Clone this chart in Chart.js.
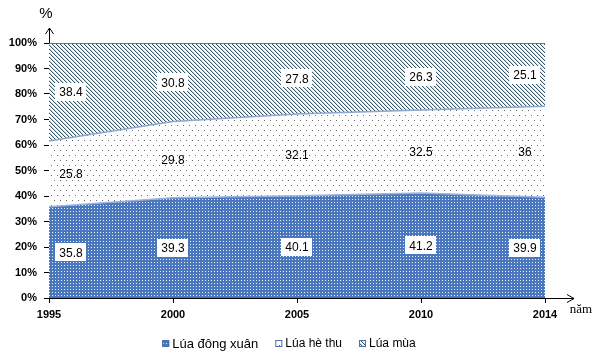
<!DOCTYPE html>
<html><head><meta charset="utf-8">
<script src="https://cdn.jsdelivr.net/npm/chart.js@4/dist/chart.umd.min.js"></script>
<style>html,body{margin:0;padding:0;background:#fff}</style>
</head><body>
<canvas id="c" width="609" height="362"></canvas>
<script>
const years = ['1995', '2000', '2005', '2010', '2014'];
const dongXuan = [35.8, 39.3, 40.1, 41.2, 39.9];
const heThu = [25.8, 29.8, 32.1, 32.5, 36];
const luaMua = [38.4, 30.8, 27.8, 26.3, 25.1];
const seriesNames = ['Lúa đông xuân', 'Lúa hè thu', 'Lúa mùa'];
const yAxisTitle = '%';
const xAxisTitle = 'năm';

const rawSeries = [dongXuan, heThu, luaMua];
const totals = years.map((_, j) => rawSeries.reduce((s, a) => s + a[j], 0));
const pct = a => a.map((v, j) => v / totals[j] * 100);

function makePattern(w, h, draw) {
  const c = document.createElement('canvas'); c.width = w; c.height = h;
  const g = c.getContext('2d'); draw(g);
  return document.createElement('canvas').getContext('2d').createPattern(c, 'repeat');
}
const patBlue = makePattern(3, 3, g => {
  g.fillStyle = '#4b77bf'; g.fillRect(0, 0, 3, 3);
  g.fillStyle = '#e8eef8'; g.fillRect(1, 1, 1, 1);
});
const patDots = makePattern(6, 10, g => {
  g.fillStyle = '#ffffff'; g.fillRect(0, 0, 6, 10);
  g.fillStyle = '#6a6a6a'; g.fillRect(0, 0, 1, 1); g.fillRect(3, 5, 1, 1);
});
const patHatch = makePattern(4, 4, g => {
  g.fillStyle = '#ffffff'; g.fillRect(0, 0, 4, 4);
  for (let i = 0; i < 4; i++) {
    g.fillStyle = '#365868'; g.fillRect(i, i, 1, 1);
    g.fillStyle = '#d0dae0'; g.fillRect((i + 1) % 4, i, 1, 1);
  }
});
const fills = [patBlue, patDots, patHatch];

const FONT = '"Liberation Sans", Arial, sans-serif';

const extrasPlugin = {
  id: 'extras',
  afterDatasetsDraw(chart) {
    const ctx = chart.ctx, xs = chart.scales.x, ys = chart.scales.y, ca = chart.chartArea;
    ctx.save();
    ctx.font = '12px ' + FONT;
    ctx.textAlign = 'center'; ctx.textBaseline = 'middle';
    const cum = years.map(() => 0);
    rawSeries.forEach((arr, d) => {
      const p = pct(arr);
      arr.forEach((v, j) => {
        const lo = cum[j], hi = cum[j] + p[j];
        cum[j] = hi;
        const y = (ys.getPixelForValue(lo) + ys.getPixelForValue(hi)) / 2;
        let x = xs.getPixelForValue(j);
        x = Math.max(ca.left + 22, Math.min(ca.right - 20, x));
        const t = String(v);
        const w = ctx.measureText(t).width + 8;
        if (d !== 1) {
          ctx.fillStyle = '#fff';
          ctx.fillRect(Math.round(x - w / 2), Math.round(y - 9), Math.round(w), 18);
        }
        ctx.fillStyle = '#000';
        ctx.fillText(t, x, y + 1);
      });
    });
    ctx.restore();
  },
  afterDraw(chart) {
    const ctx = chart.ctx, ca = chart.chartArea;
    ctx.save();
    ctx.strokeStyle = '#000'; ctx.lineWidth = 1;
    const ax = Math.round(ca.left) + 0.5;
    ctx.beginPath(); ctx.moveTo(ax, ca.top); ctx.lineTo(ax, ca.top - 15); ctx.stroke();
    ctx.beginPath(); ctx.moveTo(ax - 4, ca.top - 9); ctx.lineTo(ax, ca.top - 15); ctx.lineTo(ax + 4, ca.top - 9); ctx.stroke();
    const ay = Math.round(ca.bottom) + 0.5;
    ctx.beginPath(); ctx.moveTo(ca.right, ay); ctx.lineTo(ca.right + 29, ay); ctx.stroke();
    ctx.beginPath(); ctx.moveTo(ca.right + 22, ay - 4); ctx.lineTo(ca.right + 29, ay); ctx.lineTo(ca.right + 22, ay + 4); ctx.stroke();
    ctx.fillStyle = '#000';
    ctx.textAlign = 'center'; ctx.textBaseline = 'middle';
    ctx.font = '15px ' + FONT;
    ctx.fillText(yAxisTitle, ca.left - 3, 14);
    ctx.font = '13px "Liberation Serif", "Times New Roman", serif';
    ctx.fillText(xAxisTitle, ca.right + 36, ay + 11);
    const items = seriesNames.map((n, i) => ({ n, f: fills[i], font: (i === 0 ? '13px ' : '12px ') + FONT }));
    const gapBox = 3, gapItem = 17, box = 7;
    let total = 0;
    items.forEach((it, i) => { ctx.font = it.font; it.w = ctx.measureText(it.n).width; total += box + gapBox + it.w + (i ? gapItem : 0); });
    let x = 289 - total / 2;
    const ly = 344;
    ctx.textAlign = 'left';
    items.forEach((it, i) => {
      if (i) x += gapItem;
      ctx.fillStyle = it.f; ctx.fillRect(x, ly - 4, box, box);
      ctx.strokeStyle = '#4a6fad'; ctx.lineWidth = 1; ctx.strokeRect(x + 0.5, ly - 3.5, box - 1, box - 1);
      x += box + gapBox;
      ctx.fillStyle = '#000'; ctx.font = it.font; ctx.fillText(it.n, x, ly);
      x += it.w;
    });
    ctx.restore();
  }
};

new Chart(document.getElementById('c'), {
  type: 'line',
  data: {
    labels: years,
    datasets: [
      { label: seriesNames[0], data: pct(dongXuan), backgroundColor: patBlue, borderColor: '#9db4da', borderWidth: 1.5, fill: 'origin' },
      { label: seriesNames[1], data: pct(heThu), backgroundColor: patDots, borderColor: '#8ea7d0', borderWidth: 1.5, fill: '-1' },
      { label: seriesNames[2], data: pct(luaMua), backgroundColor: patHatch, borderColor: '#5673a2', borderWidth: 2, fill: '-1' }
    ]
  },
  options: {
    responsive: false, animation: false,
    layout: { padding: { top: 43, right: 64, bottom: 0, left: 0 } },
    elements: { point: { radius: 0 }, line: { tension: 0 } },
    plugins: { legend: { display: false }, tooltip: { enabled: false } },
    scales: {
      x: {
        type: 'category', offset: false,
        ticks: { autoSkip: false, maxRotation: 0, padding: 5, color: '#000', font: { family: FONT, size: 11, weight: 'bold' } },
        grid: { drawOnChartArea: false, drawTicks: true, tickLength: 5, color: '#000' },
        border: { color: '#000', width: 1 },
        afterFit(s) { s.height = 64; }
      },
      y: {
        stacked: true, min: 0, max: 100,
        ticks: { stepSize: 10, callback: v => v + '%', padding: 7, color: '#000', font: { family: FONT, size: 11, weight: 'bold' } },
        grid: { drawOnChartArea: false, drawTicks: true, tickLength: 5, color: '#000' },
        border: { color: '#000', width: 1 },
        afterFit(s) { s.width = 49; }
      }
    }
  },
  plugins: [extrasPlugin]
});
</script>
</body></html>
